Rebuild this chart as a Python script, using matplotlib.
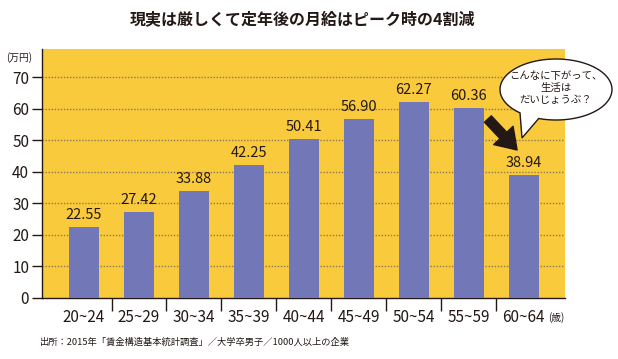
import matplotlib.pyplot as plt
import matplotlib.patches as mpatches
import numpy as np

plt.rcParams['font.family'] = ['Noto Sans CJK JP', 'DejaVu Sans']

# data
age_groups = ['20~24', '25~29', '30~34', '35~39', '40~44',
              '45~49', '50~54', '55~59', '60~64']
salary = [22.55, 27.42, 33.88, 42.25, 50.41, 56.90, 62.27, 60.36, 38.94]

title = '現実は厳しくて定年後の月給はピーク時の4割減'
source = '出所：2015年「賃金構造基本統計調査」／大学卒男子／1000人以上の企業'
bubble_lines = 'こんなに下がって、\n生活は\nだいじょうぶ？'

yellow = '#FACA3D'
bar_color = '#7277B8'
ink = '#231815'

fig = plt.figure(figsize=(6.18, 3.59), dpi=100)
ax = fig.add_axes([0.0675, 0.170, 0.8465, 0.6935])
ax.set_facecolor(yellow)

x = np.arange(len(age_groups))
ax.bar(x, salary, width=0.55, color=bar_color, zorder=3)
for xi, v in zip(x, salary):
    ax.text(xi, v + 1.6, f'{v:.2f}', ha='center', va='bottom',
            fontsize=10.5, color=ink, zorder=4)

ax.set_xlim(-0.77, 8.75)
ax.set_ylim(0, 79)

# y axis
ax.set_yticks(range(0, 80, 10))
ax.tick_params(axis='y', length=7, width=1, color=ink, labelsize=11,
               labelcolor=ink, pad=2)
for yv in range(10, 80, 10):
    ax.axhline(yv, color='#8c7a55', lw=1, ls=(0, (1, 1.2)), zorder=1)

# x axis: labels at bars, tick marks between them
ax.set_xticks(x)
ax.set_xticklabels(age_groups)
ax.set_xticks(x[:-1] + 0.5, minor=True)
ax.tick_params(axis='x', which='major', length=0, labelsize=11,
               labelcolor=ink, pad=8)
ax.tick_params(axis='x', which='minor', length=9, width=1, color=ink)

for s in ['top', 'right']:
    ax.spines[s].set_visible(False)
for s in ['left', 'bottom']:
    ax.spines[s].set_color(ink)
    ax.spines[s].set_linewidth(1)

fig.text(302 / 618, 1 - 20 / 359, title, ha='center', va='center',
         fontsize=11.5, fontweight='bold', color=ink)
fig.text(19 / 618, 1 - 58 / 359, '(万円)', ha='center', va='center',
         fontsize=7, color=ink)
fig.text(556 / 618, 1 - 318 / 359, '(歳)', ha='center', va='center',
         fontsize=7, color=ink)
fig.text(40 / 618, 1 - 342 / 359, source, ha='left', va='center',
         fontsize=6.7, color=ink)

# speech bubble (figure pixels -> fraction)
W, H = 618, 359
cx, cy, rx, ry = 556, 89.5, 56, 30.5
t = np.linspace(np.deg2rad(252), np.deg2rad(252 + 338), 120)
px = cx + rx * np.cos(t)
py = cy - ry * np.sin(t)
pts = list(zip(px, py)) + [(522, 138)]
pts = [(a / W, 1 - b / H) for a, b in pts]
bubble = mpatches.Polygon(pts, closed=True, transform=fig.transFigure,
                          facecolor='white', edgecolor=ink, lw=1, zorder=5)
fig.patches.append(bubble)
fig.text(cx / W, 1 - 88 / H, bubble_lines, ha='center', va='center',
         fontsize=7.5, color=ink, linespacing=1.25, zorder=6)

# arrow
arrow = mpatches.FancyArrowPatch((486 / W, 1 - 117 / H), (519 / W, 1 - 152 / H),
                                 transform=fig.transFigure,
                                 arrowstyle='simple,head_length=0.9,head_width=1.2,tail_width=0.42',
                                 mutation_scale=16, color=ink, zorder=6)
fig.patches.append(arrow)

fig.savefig('out.png', dpi=100)
